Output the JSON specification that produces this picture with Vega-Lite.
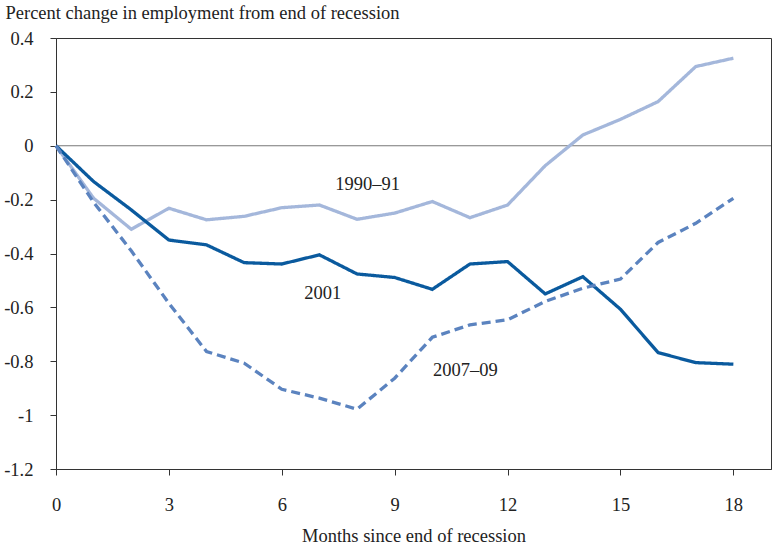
{
  "$schema": "https://vega.github.io/schema/vega-lite/v6.json",
  "width": 715,
  "height": 431,
  "autosize": "none",
  "padding": {"left": 56, "top": 38, "right": 2, "bottom": 76},
  "background": "white",
  "config": {
    "font": "Liberation Serif",
    "view": {"stroke": "#333", "strokeWidth": 1}
  },
  "datasets": {
    "series": [
      {"m": 0, "s": "1990–91", "v": 0},
      {"m": 1, "s": "1990–91", "v": -0.195},
      {"m": 2, "s": "1990–91", "v": -0.31},
      {"m": 3, "s": "1990–91", "v": -0.232},
      {"m": 4, "s": "1990–91", "v": -0.275},
      {"m": 5, "s": "1990–91", "v": -0.262},
      {"m": 6, "s": "1990–91", "v": -0.23},
      {"m": 7, "s": "1990–91", "v": -0.22},
      {"m": 8, "s": "1990–91", "v": -0.273},
      {"m": 9, "s": "1990–91", "v": -0.25},
      {"m": 10, "s": "1990–91", "v": -0.207},
      {"m": 11, "s": "1990–91", "v": -0.267},
      {"m": 12, "s": "1990–91", "v": -0.22},
      {"m": 13, "s": "1990–91", "v": -0.074},
      {"m": 14, "s": "1990–91", "v": 0.04},
      {"m": 15, "s": "1990–91", "v": 0.098},
      {"m": 16, "s": "1990–91", "v": 0.164},
      {"m": 17, "s": "1990–91", "v": 0.294},
      {"m": 18, "s": "1990–91", "v": 0.325},
      {"m": 0, "s": "2001", "v": 0},
      {"m": 1, "s": "2001", "v": -0.133},
      {"m": 2, "s": "2001", "v": -0.238},
      {"m": 3, "s": "2001", "v": -0.35},
      {"m": 4, "s": "2001", "v": -0.368},
      {"m": 5, "s": "2001", "v": -0.434},
      {"m": 6, "s": "2001", "v": -0.439},
      {"m": 7, "s": "2001", "v": -0.405},
      {"m": 8, "s": "2001", "v": -0.476},
      {"m": 9, "s": "2001", "v": -0.489},
      {"m": 10, "s": "2001", "v": -0.533},
      {"m": 11, "s": "2001", "v": -0.439},
      {"m": 12, "s": "2001", "v": -0.43},
      {"m": 13, "s": "2001", "v": -0.55},
      {"m": 14, "s": "2001", "v": -0.486},
      {"m": 15, "s": "2001", "v": -0.607},
      {"m": 16, "s": "2001", "v": -0.768},
      {"m": 17, "s": "2001", "v": -0.805},
      {"m": 18, "s": "2001", "v": -0.811},
      {"m": 0, "s": "2007–09", "v": 0},
      {"m": 1, "s": "2007–09", "v": -0.21},
      {"m": 2, "s": "2007–09", "v": -0.39},
      {"m": 3, "s": "2007–09", "v": -0.585},
      {"m": 4, "s": "2007–09", "v": -0.764},
      {"m": 5, "s": "2007–09", "v": -0.807},
      {"m": 6, "s": "2007–09", "v": -0.904},
      {"m": 7, "s": "2007–09", "v": -0.937},
      {"m": 8, "s": "2007–09", "v": -0.978},
      {"m": 9, "s": "2007–09", "v": -0.863},
      {"m": 10, "s": "2007–09", "v": -0.711},
      {"m": 11, "s": "2007–09", "v": -0.665},
      {"m": 12, "s": "2007–09", "v": -0.646},
      {"m": 13, "s": "2007–09", "v": -0.578},
      {"m": 14, "s": "2007–09", "v": -0.529},
      {"m": 15, "s": "2007–09", "v": -0.495},
      {"m": 16, "s": "2007–09", "v": -0.359},
      {"m": 17, "s": "2007–09", "v": -0.288},
      {"m": 18, "s": "2007–09", "v": -0.195}
    ],
    "labels": [
      {"m": 8.28, "v": -0.142, "t": "1990–91"},
      {"m": 7.09, "v": -0.546, "t": "2001"},
      {"m": 10.88, "v": -0.832, "t": "2007–09"}
    ],
    "zero": [{"v": 0}]
  },
  "encoding": {
    "x": {
      "field": "m", "type": "quantitative",
      "scale": {"domain": [0, 19], "nice": false},
      "axis": {
        "values": [0, 3, 6, 9, 12, 15, 18],
        "grid": false,
        "labelFlush": false,
        "title": "Months since end of recession",
        "titleFont": "Liberation Serif", "titleFontSize": 18.5, "titleFontWeight": "normal",
        "titleColor": "#222", "titlePadding": 13,
        "labelFont": "Liberation Serif", "labelFontSize": 18.5, "labelColor": "#222",
        "labelPadding": 20, "tickSize": 6, "tickColor": "#333", "domainColor": "#333"
      }
    },
    "y": {
      "field": "v", "type": "quantitative",
      "scale": {"domain": [-1.2, 0.4], "nice": false},
      "axis": {
        "values": [-1.2, -1, -0.8, -0.6, -0.4, -0.2, 0, 0.2, 0.4],
        "format": "~g",
        "labelExpr": "replace(datum.label, '−', '-')",
        "grid": false,
        "labelFlush": false,
        "title": "Percent change in employment from end of recession",
        "titleAngle": 0, "titleAlign": "left", "titleBaseline": "alphabetic",
        "titleX": -51, "titleY": -20,
        "titleFont": "Liberation Serif", "titleFontSize": 18.5, "titleFontWeight": "normal",
        "titleColor": "#222",
        "labelFont": "Liberation Serif", "labelFontSize": 18.5, "labelColor": "#222",
        "labelPadding": 17, "tickSize": 6, "tickColor": "#333", "domainColor": "#333"
      }
    }
  },
  "layer": [
    {
      "data": {"name": "zero"},
      "mark": {"type": "rule", "color": "#777", "strokeWidth": 1},
      "encoding": {"y": {"field": "v", "type": "quantitative"}, "x": null}
    },
    {
      "data": {"name": "series"},
      "mark": {"type": "line", "strokeWidth": 3.3},
      "encoding": {
        "color": {
          "field": "s", "type": "nominal",
          "scale": {"domain": ["1990–91", "2001", "2007–09"], "range": ["#a4b7db", "#0a5a9e", "#5b83bf"]},
          "legend": null
        },
        "strokeDash": {
          "field": "s", "type": "nominal",
          "scale": {"domain": ["1990–91", "2001", "2007–09"], "range": [[1, 0], [1, 0], [9, 5]]},
          "legend": null
        },
        "order": {"field": "m", "type": "quantitative"}
      }
    },
    {
      "data": {"name": "labels"},
      "mark": {"type": "text", "font": "Liberation Serif", "fontSize": 18.5, "color": "#222", "align": "center", "baseline": "middle"},
      "encoding": {"text": {"field": "t", "type": "nominal"}}
    }
  ]
}
